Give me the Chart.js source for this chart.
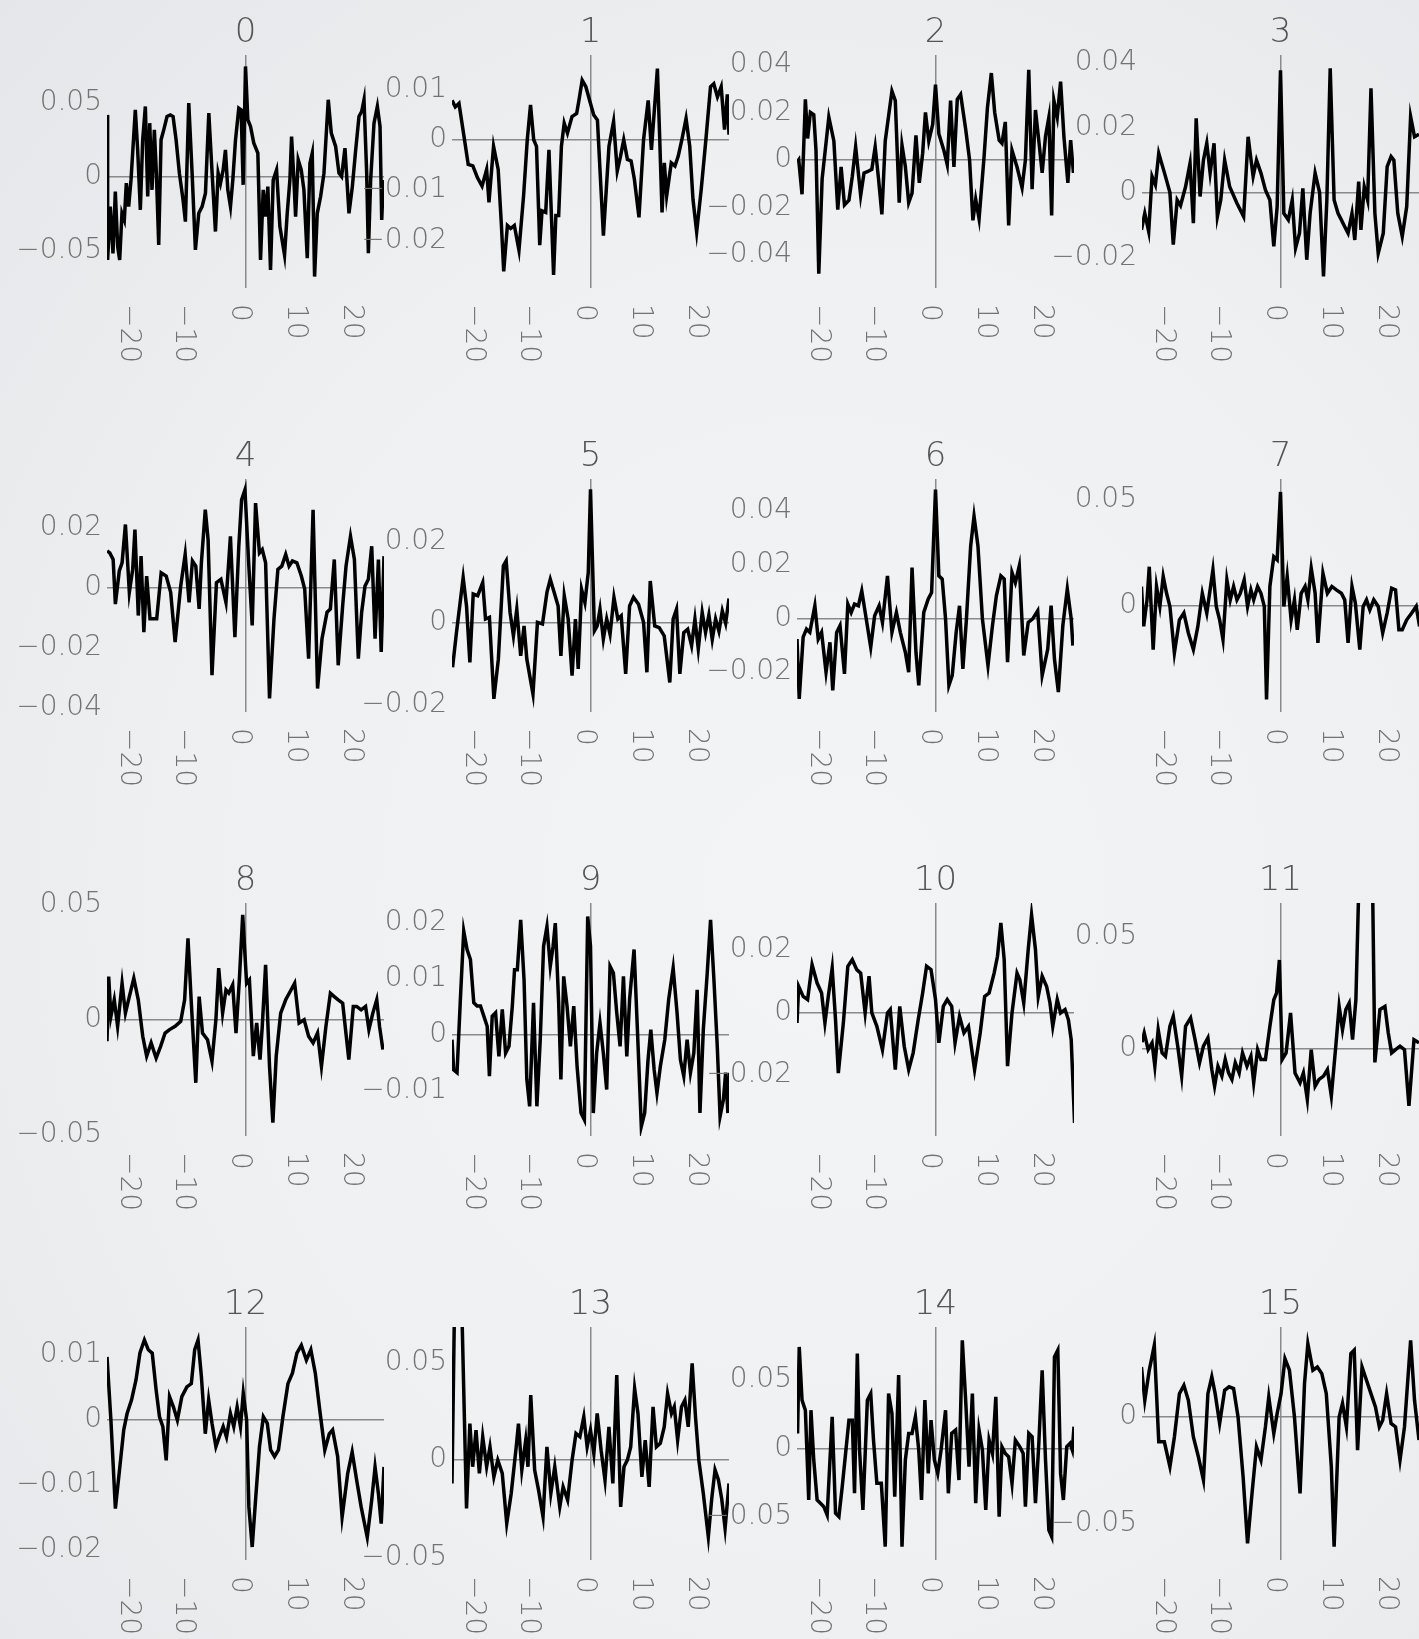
<!DOCTYPE html>
<html>
<head>
<meta charset="utf-8">
<script src="https://cdn.jsdelivr.net/npm/chart.js@4.4.0/dist/chart.umd.min.js"></script>
<style>
  html, body { margin: 0; padding: 0; }
  body {
    width: 1419px; height: 1639px; overflow: hidden; position: relative;
    background: radial-gradient(ellipse at 58% 55%, #f3f4f6 0%, #eef0f2 55%, #e4e6e9 100%);
  }
  canvas { position: absolute; }
</style>
</head>
<body>
<script>
const titles = ['0', '1', '2', '3', '4', '5', '6', '7', '8', '9', '10', '11', '12', '13', '14', '15'];
const xTicks = [-20, -10, 0, 10, 20];
const xRange = [-24.8, 24.8];

// y range (min, max) of every panel
const yRanges = [
    [-0.0752, 0.082], [-0.0294, 0.0168], [-0.054, 0.0442], [-0.0294, 0.0424],
    [-0.0413, 0.036], [-0.0217, 0.0352], [-0.0348, 0.0518], [-0.05, 0.0597],
    [-0.0507, 0.0509], [-0.0181, 0.0235], [-0.0397, 0.0351], [-0.0388, 0.065],
    [-0.0216, 0.0142], [-0.0513, 0.0684], [-0.0818, 0.089], [-0.0672, 0.0422]
];

const yTicks = [
    [-0.05, 0, 0.05], [-0.02, -0.01, 0, 0.01], [-0.04, -0.02, 0, 0.02, 0.04], [-0.02, 0, 0.02, 0.04],
    [-0.04, -0.02, 0, 0.02], [-0.02, 0, 0.02], [-0.02, 0, 0.02, 0.04], [0, 0.05],
    [-0.05, 0, 0.05], [-0.01, 0, 0.01, 0.02], [-0.02, 0, 0.02], [0, 0.05],
    [-0.02, -0.01, 0, 0.01], [-0.05, 0, 0.05], [-0.05, 0, 0.05], [-0.05, 0]
];

// [lag, value] pairs
const s0 = [[-24.8,0.0416],[-24.69,-0.0563],[-24.21,-0.0203],[-23.73,-0.0518],[-23.31,-0.0101],[-22.89,-0.0473],[-22.53,-0.0563],[-22.12,-0.0248],[-21.7,-0.0293],[-21.34,-0.0045],[-20.92,-0.0203],[-20.5,-0.0023],[-19.73,0.045],[-19.31,0.018],[-18.83,-0.0225],[-18.41,0.0248],[-17.93,0.0473],[-17.51,-0.0135],[-17.15,0.036],[-16.74,-0.009],[-16.32,0.0315],[-15.96,0.0023],[-15.54,-0.0461],[-15.12,0.0248],[-14.64,0.0315],[-14.05,0.0405],[-13.45,0.0416],[-12.97,0.0405],[-12.43,0.0248],[-11.84,0.0023],[-11.18,-0.0158],[-10.76,-0.0304],[-10.16,0.0495],[-9.56,0.0023],[-8.97,-0.0495],[-8.37,-0.0248],[-7.77,-0.0203],[-7.17,-0.0113],[-6.57,0.0428],[-5.98,0.0023],[-5.38,-0.0371],[-4.9,0.0023],[-4.48,-0.0045],[-4.0,0.0045],[-3.59,0.018],[-3.17,-0.009],[-2.69,-0.0203],[-2.27,-0.0023],[-1.79,0.0248],[-1.2,0.0461],[-0.78,0.045],[-0.42,-0.0056],[0,0.0743],[0.42,0.0383],[0.9,0.0338],[1.49,0.0225],[2.21,0.0158],[2.69,-0.0563],[3.17,-0.009],[3.59,-0.027],[4.0,-0.0068],[4.48,-0.063],[4.96,-0.0023],[5.56,0.0045],[6.16,-0.0338],[6.99,-0.0529],[7.47,-0.0248],[7.95,-0.0023],[8.25,0.027],[8.67,-0.0023],[8.97,-0.027],[9.44,0.0113],[9.98,0.0045],[10.46,-0.009],[11.06,-0.0551],[11.54,0.009],[11.95,0.0158],[12.37,-0.0675],[12.85,-0.0248],[13.45,-0.0135],[14.05,0.0023],[14.82,0.0518],[15.36,0.0293],[16.14,0.0203],[16.74,0.0023],[17.21,0],[17.81,0.0191],[18.53,-0.0248],[19.13,-0.0068],[19.73,0.018],[20.32,0.0405],[20.8,0.0439],[21.22,0.0518],[21.7,0.0023],[22.0,-0.0518],[22.41,-0.0023],[23.01,0.036],[23.61,0.0473],[24.09,0.0338],[24.39,-0.0293],[24.69,-0.0023]];
const s1 = [[-24.79,0.0078],[-24.21,0.0065],[-23.55,0.0072],[-22.56,0],[-21.9,-0.0049],[-21.07,-0.0052],[-20.25,-0.0075],[-19.42,-0.0092],[-18.6,-0.0059],[-18.18,-0.0124],[-17.36,-0.0013],[-16.53,-0.0059],[-15.95,-0.017],[-15.54,-0.0261],[-14.88,-0.017],[-14.3,-0.0176],[-13.64,-0.017],[-12.81,-0.0219],[-11.98,-0.0111],[-11.32,0],[-10.74,0.0069],[-10.17,0],[-9.67,-0.0013],[-9.09,-0.0209],[-8.68,-0.0141],[-8.02,-0.0144],[-7.44,-0.002],[-7.02,-0.0144],[-6.61,-0.0268],[-6.2,-0.015],[-5.7,-0.015],[-5.21,-0.0013],[-4.71,0.0033],[-4.13,0.0013],[-3.31,0.0046],[-2.48,0.0052],[-2.07,0.0078],[-1.49,0.0118],[-0.83,0.0105],[0,0.0072],[0.58,0.0049],[1.24,0.0039],[2.31,-0.019],[3.31,-0.0013],[4.13,0.0036],[4.79,-0.0062],[5.37,-0.0033],[5.95,0],[6.61,-0.0039],[7.27,-0.0042],[7.85,-0.0078],[8.68,-0.0154],[9.5,0],[10.33,0.0078],[10.91,-0.002],[11.98,0.0141],[12.4,0],[12.81,-0.0144],[13.22,-0.0046],[13.64,-0.0111],[14.46,-0.0046],[15.12,-0.0052],[15.7,-0.0033],[16.36,0],[17.11,0.0042],[17.77,-0.0013],[18.35,-0.0118],[19.01,-0.0183],[19.83,-0.0098],[20.66,0],[21.49,0.0105],[22.07,0.0111],[22.73,0.0085],[23.4,0.0105],[24.0,0.002],[24.5,0.009],[24.8,0.001]];
const s2 = [[-24.8,-0.001],[-24.49,0],[-23.9,-0.0145],[-23.3,0.0255],[-22.9,0.009],[-22.4,0.02],[-21.8,0.019],[-21.4,0.004],[-20.9,-0.048],[-20.3,-0.008],[-19.1,0.018],[-18.2,0.008],[-17.5,-0.021],[-16.9,-0.003],[-16.3,-0.019],[-15.5,-0.017],[-14.9,-0.007],[-14.3,0.0055],[-13.4,-0.015],[-12.8,-0.0055],[-12.2,-0.005],[-11.4,-0.004],[-10.8,0.0055],[-10.2,-0.008],[-9.6,-0.023],[-9.0,0.008],[-7.8,0.029],[-7.2,0.025],[-6.5,-0.018],[-6.0,0.0062],[-5.4,-0.0028],[-4.8,-0.018],[-4.2,-0.014],[-3.5,0.0103],[-2.9,-0.0097],[-2.3,0.0028],[-1.8,0.02],[-1.2,0.008],[-0.5,0.015],[0,0.0317],[0.6,0.011],[1.5,0.004],[2.1,-0.002],[2.7,0.025],[3.3,-0.003],[3.9,0.0255],[4.5,0.0276],[5.4,0.013],[6.1,0],[6.7,-0.0255],[7.2,-0.0166],[7.8,-0.0248],[8.7,0.0014],[9.3,0.022],[10.0,0.0366],[10.6,0.02],[11.4,0.0083],[11.9,0.007],[12.5,0.016],[13.1,-0.0276],[13.7,0.004],[14.6,-0.003],[15.5,-0.0117],[16.1,0],[16.7,0.038],[17.3,-0.0124],[17.9,0.021],[18.5,0.008],[19.1,-0.0055],[19.7,0.01],[20.3,0.018],[20.8,-0.0234],[21.2,0.025],[21.8,0.018],[22.4,0.033],[23.0,0.0097],[23.7,-0.0097],[24.2,0.0083],[24.7,-0.0055]];
const s3 = [[-24.9,-0.0115],[-24.3,-0.0064],[-23.6,-0.012],[-23.0,0.005],[-22.4,0.0024],[-21.8,0.0121],[-20.6,0.005],[-19.8,0],[-19.2,-0.016],[-18.5,-0.0023],[-17.9,-0.004],[-17.0,0.0018],[-16.2,0.009],[-15.6,-0.0094],[-15.1,0.0229],[-14.4,-0.0012],[-13.8,0.01],[-13.2,0.0152],[-12.6,0.006],[-11.9,0.0152],[-11.3,-0.0074],[-10.7,-0.0023],[-10.0,0.01],[-9.1,0.0018],[-7.8,-0.0033],[-6.6,-0.0074],[-5.8,0.0172],[-4.9,0.005],[-4.3,0.01],[-3.5,0.006],[-2.7,0.0008],[-1.9,-0.0023],[-1.2,-0.0166],[-0.6,-0.0043],[0,0.0377],[0.6,-0.0064],[1.4,-0.0084],[2.1,-0.0023],[2.7,-0.0171],[3.4,-0.0125],[4.0,0.0013],[4.7,-0.0207],[5.3,-0.0064],[6.2,0.006],[7.0,0],[7.7,-0.0258],[8.3,-0.0023],[8.9,0.0383],[9.6,-0.0023],[10.3,-0.0064],[10.9,-0.0084],[11.5,-0.0105],[12.1,-0.0125],[12.8,-0.0064],[13.3,-0.0146],[14.0,0.0034],[14.4,-0.0115],[15.0,0.0018],[15.6,-0.0023],[16.2,0.0321],[16.9,-0.0064],[17.5,-0.0187],[18.4,-0.0125],[19.1,0.008],[19.8,0.0111],[20.3,0.01],[21.0,-0.0064],[21.8,-0.0135],[22.6,-0.0043],[23.3,0.0234],[24.0,0.0172],[24.8,0.018]];
const s4 = [[-24.77,0.0121],[-24.3,0.0115],[-23.7,0.0093],[-23.3,-0.0055],[-22.6,0.0055],[-22.1,0.0082],[-21.5,0.0209],[-20.8,-0.0016],[-20.2,0.006],[-19.8,0.0192],[-19.2,-0.0093],[-18.7,0.0104],[-18.2,-0.0148],[-17.7,0.0038],[-17.1,-0.0104],[-15.9,-0.0104],[-15.1,0.0049],[-14.2,0.0038],[-13.4,-0.0016],[-12.6,-0.0181],[-11.6,0.0005],[-10.8,0.011],[-10.1,-0.0049],[-9.5,0.0088],[-8.9,0.0071],[-8.3,-0.0071],[-7.9,0.0082],[-7.2,0.0258],[-6.7,0.0159],[-6.0,-0.0291],[-5.2,0.0016],[-4.4,0.0027],[-3.5,-0.0049],[-2.7,0.017],[-1.9,-0.0165],[-1.2,0.0137],[-0.7,0.0291],[-0.1,0.0324],[0.6,0.0071],[1.2,-0.0126],[1.8,0.028],[2.5,0.0115],[3.0,0.0126],[3.6,0.0082],[4.3,-0.0368],[5.1,-0.0104],[5.8,0.006],[6.5,0.0071],[7.2,0.011],[7.8,0.0071],[8.4,0.0088],[9.2,0.0082],[10.0,0.0038],[10.6,-0.0005],[11.3,-0.0236],[12.1,0.0258],[12.9,-0.0335],[13.7,-0.017],[14.6,-0.0082],[15.2,-0.0071],[15.9,0.0093],[16.6,-0.0258],[17.4,-0.006],[18.0,0.0071],[18.8,0.017],[19.5,0.0093],[20.2,-0.0236],[20.8,-0.0082],[21.4,0.0005],[22.0,0.0027],[22.6,0.0137],[23.2,-0.017],[23.8,0.0093],[24.3,-0.0214],[24.8,0.0104]];
const s5 = [[-24.7,-0.0108],[-24.0,-0.0023],[-22.8,0.0111],[-22.2,0.0042],[-21.6,-0.0096],[-21.0,0.0071],[-20.2,0.0067],[-19.3,0.0099],[-18.8,0.001],[-18.1,0.0014],[-17.3,-0.0185],[-16.5,-0.0088],[-15.6,0.014],[-15.1,0.0152],[-14.4,0.0026],[-13.8,-0.0031],[-13.2,0.0034],[-12.5,-0.008],[-11.9,-0.0007],[-11.4,-0.0088],[-10.3,-0.0173],[-9.5,0.0002],[-8.6,-0.0002],[-7.8,0.0075],[-7.2,0.0107],[-6.5,0.0075],[-5.8,0.0042],[-5.3,-0.008],[-4.7,0.0067],[-4.0,0.001],[-3.3,-0.0128],[-2.7,0.001],[-2.2,-0.0112],[-1.6,0.0083],[-1.0,0.005],[-0.4,0.0124],[0,0.0327],[0.7,-0.0019],[1.2,-0.0007],[1.7,0.0034],[2.3,-0.0039],[2.9,0.001],[3.5,-0.0027],[4.2,0.0063],[4.9,0.001],[5.5,0.0018],[6.3,-0.0124],[7.0,0.0042],[7.7,0.0063],[8.6,0.0046],[9.5,0.0002],[10.1,-0.012],[10.7,0.0103],[11.5,-0.0007],[12.3,-0.0011],[13.2,-0.0031],[14.2,-0.0145],[14.8,0.001],[15.4,0.0034],[16.0,-0.0124],[16.7,-0.0023],[17.4,-0.0015],[18.1,-0.0055],[18.7,0.001],[19.3,-0.0063],[20.0,0.0026],[20.6,-0.0023],[21.2,0.002],[21.8,-0.004],[22.4,0.001],[23.0,-0.002],[23.6,0.003],[24.2,0],[24.8,0.006]];
const s6 = [[-24.8,-0.0077],[-24.4,-0.0299],[-23.7,-0.007],[-23.1,-0.004],[-22.5,-0.0052],[-21.6,0.0047],[-21.0,-0.0077],[-20.4,-0.0052],[-19.6,-0.02],[-18.9,-0.0089],[-18.4,-0.0268],[-17.7,-0.0052],[-17.1,-0.0027],[-16.3,-0.0206],[-15.7,0.0053],[-15.1,0.0022],[-14.5,0.0053],[-13.8,0.0047],[-13.2,0.0102],[-12.4,-0.0002],[-11.6,-0.0107],[-10.9,0.001],[-10.1,0.0047],[-9.5,-0.0015],[-8.6,0.0158],[-7.8,-0.0052],[-7.0,0.0022],[-6.3,-0.0052],[-5.4,-0.0126],[-4.8,-0.02],[-4.2,0.0189],[-3.5,-0.0126],[-3.0,-0.0249],[-2.1,0.0022],[-1.3,0.0072],[-0.7,0.0096],[0,0.0479],[0.6,0.0158],[1.2,0.0146],[1.8,-0.0002],[2.4,-0.0249],[3.0,-0.0212],[3.7,-0.0052],[4.3,0.0047],[4.9,-0.0188],[5.5,-0.0015],[6.3,0.0269],[6.9,0.038],[7.6,0.0269],[8.4,-0.0002],[9.4,-0.0175],[10.2,-0.0027],[10.9,0.0084],[11.7,0.0158],[12.3,0.0146],[12.9,-0.0163],[13.7,0.017],[14.3,0.0133],[15.0,0.0195],[15.8,-0.0138],[16.6,-0.0015],[17.4,-0.0002],[18.3,0.0028],[19.1,-0.0212],[20.1,-0.0114],[20.7,0.0047],[21.3,-0.0151],[22.0,-0.0274],[22.8,-0.0027],[23.6,0.0109],[24.3,-0.0002],[24.6,-0.0101]];
const s7 = [[-24.9,0.0091],[-24.5,-0.0097],[-23.9,0.0028],[-23.5,0.0184],[-22.8,-0.0206],[-22.2,0.0091],[-21.6,-0.0003],[-21.0,0.0138],[-20.4,0.0059],[-19.8,-0.0003],[-19.0,-0.0222],[-18.1,-0.0066],[-17.3,-0.0034],[-16.5,-0.0128],[-15.6,-0.0206],[-14.8,-0.0097],[-14.0,0.0059],[-13.2,-0.0034],[-12.1,0.0169],[-11.5,-0.0003],[-10.9,-0.0066],[-10.3,-0.0159],[-9.6,0.0122],[-9.0,0.0028],[-8.4,0.0091],[-7.8,0.0028],[-7.2,0.0059],[-6.5,0.0122],[-5.9,-0.0003],[-5.3,0.0075],[-4.8,0.0028],[-4.1,0.0091],[-3.5,0.0059],[-2.9,-0.0003],[-2.5,-0.0441],[-1.9,0.0091],[-1.2,0.0231],[-0.6,0.0216],[0,0.0536],[0.6,-0.0003],[1.2,0.0138],[1.9,-0.0066],[2.5,0.0028],[3.0,-0.0113],[3.7,0.0059],[4.4,0.0091],[4.9,0.0028],[5.5,0.0177],[6.2,0.0059],[6.7,-0.0175],[7.6,0.0153],[8.4,0.0059],[9.2,0.0091],[10.0,0.0075],[10.9,0.0059],[11.5,0.0028],[12.1,-0.0175],[12.8,0.0091],[13.4,0.0013],[14.2,-0.0206],[14.8,-0.0003],[15.4,0.0028],[16.0,-0.0019],[16.7,0.0028],[17.5,-0.0003],[18.3,-0.0128],[19.1,-0.0034],[19.9,0.0083],[20.6,0.0075],[21.2,-0.0113],[21.8,-0.0113],[22.6,-0.0066],[23.5,-0.0034],[24.3,-0.0003],[24.9,-0.0097]];
const s8 = [[-24.8,-0.0094],[-24.5,0.0188],[-24.1,0.0014],[-23.5,0.0087],[-22.9,-0.0029],[-22.1,0.0159],[-21.5,0.0029],[-20.8,0.0101],[-20.0,0.0181],[-19.2,0.0087],[-18.4,-0.0072],[-17.7,-0.0159],[-16.9,-0.0101],[-16.0,-0.0167],[-15.2,-0.0116],[-14.4,-0.0058],[-13.6,-0.0043],[-12.6,-0.0029],[-11.6,-0.0007],[-10.9,0.0087],[-10.3,0.0355],[-9.7,0.0072],[-8.9,-0.0275],[-8.3,0.0101],[-7.7,-0.0058],[-6.8,-0.0087],[-6.0,-0.0181],[-5.3,0],[-4.8,0.0225],[-4.1,0.0029],[-3.5,0.013],[-3.0,0.0116],[-2.3,0.0152],[-1.7,-0.0058],[-1.1,0.0174],[-0.5,0.0457],[0.2,0.0159],[0.7,0.0174],[1.4,-0.0159],[2.0,-0.0014],[2.6,-0.0174],[3.0,-0.0029],[3.6,0.0239],[4.3,-0.0203],[4.9,-0.0449],[5.5,-0.0159],[6.3,0.0029],[7.2,0.0087],[8.0,0.0123],[8.8,0.0159],[9.6,-0.0014],[10.5,0],[11.3,-0.0072],[12.1,-0.0101],[12.9,-0.0058],[13.6,-0.0203],[14.4,-0.0029],[15.2,0.0116],[15.9,0.0101],[16.6,0.0087],[17.4,0.0072],[18.5,-0.0174],[19.3,0.0058],[19.9,0.0058],[20.7,0.0043],[21.5,0.0058],[22.1,-0.0043],[22.8,0.0029],[23.5,0.0087],[24.0,-0.0029],[24.6,-0.013]];
const s9 = [[-24.8,-0.0009],[-24.5,-0.0063],[-23.9,-0.0068],[-23.3,0.0063],[-22.7,0.0185],[-22.1,0.0152],[-21.5,0.0134],[-20.9,0.0057],[-20.3,0.0051],[-19.7,0.0051],[-19.1,0.0033],[-18.5,0.0015],[-18.1,-0.0074],[-17.6,0.0033],[-17.0,0.0039],[-16.4,-0.0039],[-15.8,0.0045],[-15.2,-0.0033],[-14.6,-0.0021],[-14.0,0.0051],[-13.6,0.0116],[-13.1,0.0116],[-12.5,0.0205],[-11.9,0.0098],[-11.4,-0.008],[-10.9,-0.0128],[-10.2,0.0057],[-9.6,-0.0128],[-9.0,-0.0009],[-8.4,0.0158],[-7.8,0.0193],[-7.2,0.0122],[-6.7,0.0158],[-6.3,0.0199],[-5.7,0.0057],[-5.3,-0.008],[-4.8,0.0104],[-4.2,0.0051],[-3.6,-0.0021],[-3.0,0.0051],[-2.4,-0.0057],[-1.7,-0.014],[-1.1,-0.0152],[-0.5,0.0211],[0,0.0158],[0.5,-0.014],[1.1,-0.0033],[1.7,0.0021],[2.3,-0.0033],[2.9,-0.0098],[3.5,0.0122],[4.1,0.011],[4.7,0.0039],[5.3,-0.0021],[5.9,0.0104],[6.5,-0.0039],[7.0,0.0063],[7.8,0.0152],[8.4,0.0009],[9.1,-0.0164],[9.7,-0.014],[10.3,-0.0045],[10.8,0.0009],[11.4,-0.0063],[11.9,-0.0104],[12.5,-0.0057],[13.3,-0.0009],[14.0,0.0063],[14.8,0.0119],[15.5,0.0039],[16.1,-0.0045],[16.7,-0.0074],[17.3,-0.0009],[17.9,-0.0068],[18.5,-0.0033],[19.1,0.008],[19.6,-0.014],[20.2,0.0009],[20.9,0.011],[21.5,0.0205],[22.1,0.0098],[22.7,-0.0021],[23.2,-0.0146],[23.8,-0.0116],[24.2,-0.0068],[24.6,-0.014],[24.9,-0.0068]];
const s10 = [[-24.8,-0.0034],[-24.5,0.0083],[-23.7,0.0051],[-22.9,0.0041],[-22.1,0.0153],[-21.2,0.0094],[-20.4,0.0062],[-19.8,-0.0034],[-19.2,0.0051],[-18.5,0.0142],[-17.9,-0.0024],[-17.4,-0.0195],[-16.5,-0.0034],[-15.7,0.0148],[-14.9,0.0169],[-14.1,0.0137],[-13.4,0.0126],[-12.6,-0.0002],[-11.9,0.0116],[-11.4,-0.0002],[-10.5,-0.0045],[-9.5,-0.012],[-8.6,-0.0002],[-8.1,0.0009],[-7.2,-0.0184],[-6.4,0.0019],[-5.6,-0.0109],[-4.8,-0.0184],[-4.0,-0.013],[-3.1,-0.0024],[-2.3,0.0062],[-1.6,0.0148],[-0.8,0.0137],[0,0.0041],[0.6,-0.0098],[1.4,0.0019],[2.1,0.0041],[2.9,0.0019],[3.5,-0.0098],[4.3,-0.0013],[5.1,-0.0066],[5.9,-0.0045],[7.0,-0.0184],[8.0,-0.0066],[8.8,0.0051],[9.6,0.0062],[10.5,0.0126],[11.1,0.018],[11.7,0.0287],[12.3,0.0169],[12.9,-0.0173],[13.7,-0.0002],[14.6,0.0126],[15.1,0.0105],[15.8,0.003],[16.6,0.0201],[17.2,0.0313],[17.9,0.0201],[18.4,0.0051],[19.1,0.0116],[19.9,0.0083],[20.5,0.003],[21.0,-0.0045],[21.8,0.0041],[22.4,-0.0002],[23.2,0.0009],[23.8,-0.0024],[24.3,-0.0088],[24.9,-0.0355]];
const s11 = [[-24.8,0.003],[-24.4,0.0071],[-23.7,-0.0003],[-23.0,0.0027],[-22.5,-0.0077],[-21.9,0.0086],[-21.2,-0.0018],[-20.6,-0.0033],[-19.8,0.0101],[-19.2,0.0145],[-18.4,0.0012],[-17.7,-0.0121],[-17.0,0.0101],[-16.1,0.0138],[-15.3,0.0041],[-14.5,-0.0062],[-13.8,0.0012],[-13.0,0.0049],[-12.3,-0.0092],[-11.8,-0.0166],[-11.2,-0.0077],[-10.5,-0.0121],[-9.9,-0.0047],[-9.3,-0.0107],[-8.7,-0.0136],[-8.1,-0.0062],[-7.4,-0.0107],[-6.8,-0.0018],[-6.0,-0.0077],[-5.3,-0.0033],[-4.8,-0.0151],[-4.1,-0.0003],[-3.5,-0.0047],[-2.7,-0.0047],[-1.9,0.0101],[-1.2,0.0219],[-0.7,0.0249],[-0.2,0.0396],[0.3,-0.0047],[1.0,-0.0018],[1.8,0.016],[2.6,-0.0107],[3.5,-0.0151],[4.1,-0.0107],[4.8,-0.0225],[5.5,-0.0003],[6.2,-0.0166],[6.9,-0.0136],[7.7,-0.0121],[8.4,-0.0092],[9.1,-0.021],[9.9,0.0012],[10.5,0.0189],[11.1,0.0086],[11.7,0.0175],[12.3,0.0204],[12.9,0.0041],[13.5,0.0219],[14.2,0.09],[16.4,0.09],[16.9,-0.006],[17.8,0.0175],[18.7,0.0189],[19.3,0.0071],[19.9,-0.0018],[20.6,-0.0003],[21.4,0.0012],[22.2,-0.0003],[23.0,-0.0254],[23.9,0.0041],[24.8,0.0027]];
const s12 = [[-24.8,0.0096],[-24.1,-0.0001],[-23.3,-0.0137],[-22.5,-0.0073],[-21.8,-0.0016],[-21.2,0.0009],[-20.4,0.003],[-19.6,0.0061],[-18.9,0.0102],[-18.1,0.0122],[-17.4,0.0107],[-16.7,0.0102],[-16.0,0.0045],[-15.4,0.0004],[-14.8,-0.0011],[-14.2,-0.0063],[-13.6,0.0035],[-12.9,0.0019],[-12.2,-0.0001],[-11.4,0.0035],[-10.5,0.005],[-9.7,0.0055],[-9.1,0.0107],[-8.5,0.0122],[-7.9,0.0066],[-7.2,-0.0022],[-6.6,0.003],[-6.0,-0.0006],[-5.3,-0.0042],[-4.7,-0.0027],[-4.0,-0.0011],[-3.4,-0.0027],[-2.7,0.0009],[-2.1,-0.0011],[-1.5,0.0019],[-0.9,-0.0011],[-0.4,0.004],[0.2,-0.0001],[0.6,-0.0134],[1.2,-0.0196],[1.8,-0.0124],[2.5,-0.0042],[3.2,0.0004],[3.9,-0.0006],[4.5,-0.0047],[5.2,-0.0057],[5.9,-0.0047],[6.7,0.0004],[7.6,0.0055],[8.4,0.0071],[9.2,0.0102],[10.0,0.0114],[10.9,0.0091],[11.7,0.0107],[12.5,0.0071],[13.3,0.0014],[14.2,-0.0047],[15.0,-0.0022],[15.6,-0.0016],[16.5,-0.0057],[17.3,-0.015],[18.3,-0.0083],[19.1,-0.005],[19.9,-0.0093],[20.7,-0.0134],[21.8,-0.0181],[22.6,-0.0124],[23.2,-0.0073],[23.8,-0.0114],[24.3,-0.016],[24.8,-0.0073]];
const s13 = [[-24.8,-0.012],[-24.3,0.09],[-23.1,0.085],[-22.2,-0.0248],[-21.6,0.0188],[-21.1,-0.0034],[-20.5,0.0154],[-19.9,-0.0068],[-19.3,0.012],[-18.6,-0.0034],[-18.0,0.0068],[-17.3,-0.0086],[-16.6,0],[-15.8,-0.0068],[-15.0,-0.0325],[-14.2,-0.0171],[-13.3,0.0068],[-12.9,0.0188],[-12.3,-0.0051],[-11.6,0.0103],[-11.2,-0.0034],[-10.7,0.0334],[-10.0,-0.0051],[-9.3,-0.0154],[-8.5,-0.0291],[-7.8,0.0068],[-7.1,-0.0171],[-6.4,-0.0034],[-5.5,-0.024],[-4.9,-0.0137],[-4.1,-0.0205],[-3.3,0],[-2.6,0.0137],[-1.9,0.012],[-1.2,0.0223],[-0.6,0.0068],[0,0.0154],[0.6,0.0034],[1.2,0.024],[1.9,0.0051],[2.6,-0.0103],[3.3,0.0171],[4.0,-0.012],[4.7,0.0437],[5.4,-0.024],[6.0,-0.0034],[6.6,0],[7.2,0.0068],[7.9,0.0368],[8.5,0.024],[9.2,-0.0086],[9.8,0.0103],[10.5,-0.0137],[11.2,0.0274],[11.8,0.0068],[12.5,0.0086],[13.2,0.0171],[13.8,0.0342],[14.5,0.024],[15.0,0.0274],[15.6,0.0103],[16.3,0.0274],[16.9,0.0308],[17.5,0.0171],[18.2,0.0497],[18.8,0.0223],[19.4,0],[20.2,-0.0171],[21.1,-0.0394],[21.7,-0.02],[22.3,-0.005],[22.9,-0.01],[23.5,-0.02],[24.1,-0.035],[24.8,-0.012]];
const s14 = [[-24.7,0.011],[-24.4,0.0744],[-23.9,0.0354],[-23.3,0.028],[-22.7,-0.0378],[-22.3,0.028],[-21.8,-0.0085],[-21.2,-0.0378],[-20.6,-0.0402],[-20.0,-0.0427],[-19.4,-0.0488],[-18.5,0.0232],[-17.9,-0.0476],[-17.3,-0.05],[-16.7,-0.028],[-16.1,-0.0037],[-15.5,0.0207],[-14.9,0.0207],[-14.5,-0.0329],[-14.0,0.0695],[-13.6,-0.0012],[-13.0,-0.0451],[-12.2,0.0354],[-11.6,0.0402],[-11.1,0.0061],[-10.5,-0.0256],[-9.7,-0.0256],[-9.0,-0.072],[-8.4,0.0402],[-7.8,0.0256],[-7.3,-0.0354],[-6.6,0.0537],[-6.0,-0.072],[-5.4,-0.0085],[-4.8,0.011],[-4.2,0.011],[-3.6,0.0232],[-3.0,-0.0012],[-2.5,-0.0378],[-1.9,0.0354],[-1.3,-0.0183],[-0.8,0.0207],[-0.2,-0.0085],[0.4,-0.0183],[1.0,-0.0012],[1.8,0.028],[2.3,-0.0329],[2.9,0.011],[3.6,0.0134],[4.2,-0.0232],[4.8,0.0793],[5.4,0.0354],[6.0,-0.0134],[6.6,0.0402],[7.2,-0.0402],[7.8,0.0134],[8.4,-0.0012],[9.0,-0.0451],[9.6,0.0061],[10.2,-0.0037],[10.8,0.0378],[11.4,-0.05],[11.9,0.0012],[12.5,-0.0037],[13.1,-0.0061],[13.7,-0.0256],[14.3,0.0061],[15.1,0.0012],[15.7,-0.0037],[16.1,-0.0427],[16.7,0.011],[17.3,0.0085],[17.9,-0.0402],[18.5,0.0037],[19.1,0.0573],[19.7,-0.0085],[20.3,-0.0598],[20.8,-0.0646],[21.3,0.0671],[21.9,0.072],[22.4,-0.0183],[22.9,-0.0378],[23.5,0.0012],[24.1,0.0037],[24.5,-0.0012],[24.8,0.0159]];
const s15 = [[-24.9,0.0234],[-24.3,0.0078],[-23.5,0.0219],[-22.6,0.0336],[-21.8,-0.0117],[-20.8,-0.0117],[-19.8,-0.0234],[-19.0,-0.0094],[-18.1,0.0109],[-17.3,0.0148],[-16.5,0.0078],[-15.6,-0.0094],[-14.7,-0.0188],[-13.8,-0.0297],[-13.0,0.0109],[-12.3,0.0188],[-11.7,0.0109],[-10.9,-0.0031],[-10.0,0.0125],[-9.2,0.0141],[-8.4,0.0133],[-7.6,0],[-6.7,-0.0281],[-5.9,-0.0594],[-5.1,-0.0359],[-4.3,-0.0141],[-3.5,-0.0203],[-2.7,-0.0047],[-2.1,0.0094],[-1.2,-0.0078],[-0.6,0.0016],[0.1,0.0109],[0.8,0.0273],[1.6,0.0219],[2.5,0],[3.5,-0.0359],[4.3,0.0156],[4.9,0.0344],[5.8,0.0219],[6.6,0.0234],[7.4,0.0203],[8.2,0.0109],[9.1,-0.0234],[9.6,-0.0609],[10.5,0],[11.1,0.0063],[11.8,-0.0047],[12.6,0.0297],[13.2,0.0313],[13.8,-0.0156],[14.6,0.0234],[15.4,0.0172],[16.2,0.0109],[17.0,0.0047],[17.7,-0.0047],[18.3,-0.0016],[19.0,0.0109],[19.8,-0.0031],[20.6,-0.0047],[21.4,-0.0203],[22.2,-0.0047],[23.3,0.0359],[24.0,0.0078],[24.8,-0.0109]];

const series = [s0, s1, s2, s3, s4, s5, s6, s7, s8, s9, s10, s11, s12, s13, s14, s15];

const FONT = 'DejaVu Sans';
const AXIS_COLOR = '#8a8a8a';
const TICK_COLOR = '#737373';
const TITLE_COLOR = '#555555';
const PAD_TOP = 60;
const AXIS_W = 110;
const AXIS_H = 90;
const PLOT_W = 277;
const PLOT_H = 233;

function fmt(v) {
    if (v === 0) return '0';
    return (v < 0 ? '\u2212' : '') + Math.abs(v).toString();
}

// panel number above, rotated x labels below
const panelText = {
    id: 'panelText',
    afterDraw(chart, args, opts) {
        const {ctx, chartArea} = chart;
        const xs = chart.scales.x;
        ctx.save();
        ctx.fillStyle = TITLE_COLOR;
        ctx.font = '200 34px "' + FONT + '"';
        ctx.textAlign = 'center';
        ctx.textBaseline = 'alphabetic';
        ctx.fillText(opts.title, xs.getPixelForValue(0), chartArea.top - 13);

        ctx.fillStyle = TICK_COLOR;
        ctx.font = '200 28px "' + FONT + '"';
        ctx.textAlign = 'left';
        ctx.textBaseline = 'middle';
        for (const v of xTicks) {
            ctx.save();
            ctx.translate(xs.getPixelForValue(v) - 6, chartArea.bottom + 16);
            ctx.rotate(Math.PI / 2);
            ctx.fillText(fmt(v), 0, 0);
            ctx.restore();
        }
        ctx.restore();
    }
};

function zeroOnly(c) {
    return c.tick && c.tick.value === 0 ? AXIS_COLOR : 'rgba(0,0,0,0)';
}

function makePanel(i) {
    const col = i % 4;
    const row = Math.floor(i / 4);
    const w = AXIS_W + PLOT_W + 12;
    const h = PAD_TOP + PLOT_H + AXIS_H;
    const canvas = document.createElement('canvas');
    canvas.width = w;
    canvas.height = h;
    canvas.style.width = w + 'px';
    canvas.style.height = h + 'px';
    canvas.style.left = (245 + 345 * col - PLOT_W / 2 - AXIS_W) + 'px';
    canvas.style.top = (55 + 424 * row - PAD_TOP) + 'px';
    document.body.appendChild(canvas);

    new Chart(canvas, {
        type: 'line',
        data: {
            datasets: [{
                data: series[i].map(p => ({x: p[0], y: p[1]})),
                borderColor: '#000',
                borderWidth: 3.5,
                pointRadius: 0,
                tension: 0
            }]
        },
        options: {
            responsive: false,
            animation: false,
            layout: {padding: {top: PAD_TOP, right: 12, left: 0, bottom: 0}},
            plugins: {
                legend: {display: false},
                tooltip: {enabled: false},
                panelText: {title: titles[i]}
            },
            scales: {
                x: {
                    type: 'linear',
                    min: xRange[0],
                    max: xRange[1],
                    afterBuildTicks: s => { s.ticks = xTicks.map(v => ({value: v})); },
                    afterFit: s => { s.height = AXIS_H; },
                    ticks: {display: false},
                    grid: {color: zeroOnly, lineWidth: 1.5, drawTicks: false},
                    border: {display: false}
                },
                y: {
                    type: 'linear',
                    min: yRanges[i][0],
                    max: yRanges[i][1],
                    afterBuildTicks: s => { s.ticks = yTicks[i].map(v => ({value: v})); },
                    afterFit: s => { s.width = AXIS_W; },
                    ticks: {
                        padding: 5,
                        color: TICK_COLOR,
                        font: {family: FONT, size: 28, weight: '200'},
                        callback: v => fmt(v)
                    },
                    grid: {color: zeroOnly, lineWidth: 1.5, drawTicks: false},
                    border: {display: false}
                }
            }
        },
        plugins: [panelText]
    });
}

for (let i = 0; i < series.length; i++) makePanel(i);
</script>
</body>
</html>
